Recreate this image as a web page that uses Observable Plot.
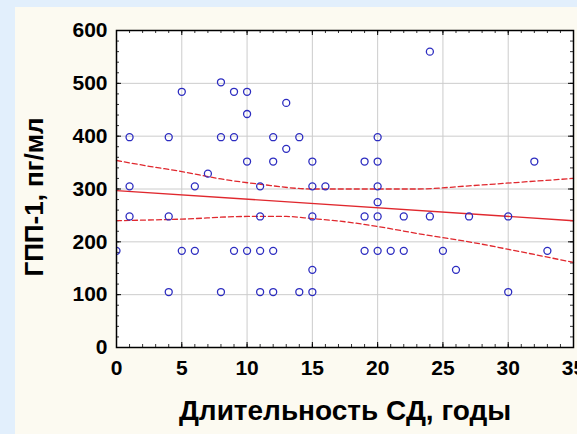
<!DOCTYPE html>
<html><head><meta charset="utf-8">
<script src="https://cdn.jsdelivr.net/npm/d3@7"></script>
<script src="https://cdn.jsdelivr.net/npm/@observablehq/plot@0.6"></script>
<style>
html,body{margin:0;padding:0;width:577px;height:434px;overflow:hidden;background:#e2effc;}
#panel{position:absolute;left:15px;top:7px;right:0;bottom:0;background:#fcfaf1;}
#chart{position:absolute;left:0;top:0;}
</style></head>
<body><div id="panel"></div><div id="chart"></div>
<script>
// Scatter data: diabetes duration (years) vs GLP-1 (pg/ml)
const durationYears = [1,4,5,8,9,10,10,13,8,9,12,14,10,12,15,13,7,1,6,11,15,16,
  24,20,19,20,32,20,
  0,1,4,11,15,5,6,9,10,11,12,15,4,8,11,12,14,15,
  20,19,20,22,24,27,30,19,20,21,22,25,33,26,30];
const glp1 = [398,398,484,502,484,484,442,463,398,398,398,398,352,352,352,376,329,305,305,305,305,305,
  560,398,352,352,352,305,
  183,248,248,248,248,183,183,183,183,183,183,147,105,105,105,105,105,105,
  275,248,248,248,248,248,248,183,183,183,183,183,183,147,105];

// Regression line and confidence limits
const regX = [0, 35];
const regY = [297, 240];
const upperX = [0, 2.5, 5, 8, 11, 15, 20, 23, 27, 31, 35];
const upperY = [354, 343, 333, 319, 309, 300, 300, 300, 306, 313, 320];
const lowerX = [0, 5, 10, 13, 15, 17.5, 20, 23, 27, 31, 35];
const lowerY = [240, 243, 248, 248, 244, 238, 229, 216, 200, 181, 161];

// Ticks
const xTicks = [0,5,10,15,20,25,30,35];
const yTicks = [0,100,200,300,400,500,600];
const xGrid = [5,10,15,20,25,30];
const yGrid = [100,200,300,400,500];
const xMinor = d3.range(0, 36, 1);
const yMinor = d3.range(0, 601, 20);

const xTitle = "Длительность СД, годы";
const yTitle = "ГПП-1, пг/мл";

const points = durationYears.map((x, i) => ({x, y: glp1[i]}));
const reg = regX.map((x, i) => ({x, y: regY[i]}));
const upper = upperX.map((x, i) => ({x, y: upperY[i]}));
const lower = lowerX.map((x, i) => ({x, y: lowerY[i]}));

const W = 577, H = 434, mL = 116, mR = 4, mT = 30, mB = 87;
const pH = H - mT - mB, pW = W - mL - mR;
const red = "#e0282e", blue = "#2c2cc0";
const font = "'Liberation Sans', Arial, sans-serif";

const chart = Plot.plot({
  width: W, height: H,
  marginLeft: mL, marginRight: mR, marginTop: mT, marginBottom: mB,
  style: {background: "transparent", fontFamily: font, color: "black"},
  x: {domain: [0, 35]},
  y: {domain: [0, 600]},
  marks: [
    Plot.frame({fill: "white", stroke: null}),
    Plot.gridX(xGrid, {stroke: "#cccccc", strokeOpacity: 1}),
    Plot.gridY(yGrid, {stroke: "#cccccc", strokeOpacity: 1}),
    // minor ticks, inward on all four sides
    Plot.ruleX(xMinor, {insetTop: pH - 3, stroke: "#333"}),
    Plot.ruleX(xMinor, {insetBottom: pH - 3, stroke: "#333"}),
    Plot.ruleY(yMinor, {insetRight: pW - 3, stroke: "#333"}),
    Plot.ruleY(yMinor, {insetLeft: pW - 3, stroke: "#333"}),
    // major ticks
    Plot.ruleX(xTicks, {insetTop: pH - 5, stroke: "black"}),
    Plot.ruleX(xTicks, {insetBottom: pH - 5, stroke: "black"}),
    Plot.ruleY(yTicks, {insetRight: pW - 5, stroke: "black"}),
    Plot.ruleY(yTicks, {insetLeft: pW - 5, stroke: "black"}),
    Plot.line(upper, {x: "x", y: "y", stroke: red, strokeWidth: 1.3, strokeDasharray: "5,3", curve: "monotone-x"}),
    Plot.line(lower, {x: "x", y: "y", stroke: red, strokeWidth: 1.3, strokeDasharray: "5,3", curve: "monotone-x"}),
    Plot.line(reg, {x: "x", y: "y", stroke: red, strokeWidth: 1.4}),
    Plot.dot(points, {x: "x", y: "y", r: 3.5, stroke: blue, strokeWidth: 1.3, fill: "none", clip: true}),
    Plot.frame({stroke: "black", strokeWidth: 1.5}),
    Plot.axisX(xTicks, {tickSize: 0, tickPadding: 13, fontSize: 21, fontWeight: "bold", label: null}),
    Plot.axisY(yTicks, {tickSize: 0, tickPadding: 9, fontSize: 21, fontWeight: "bold", label: null}),
    Plot.text([xTitle], {text: d => d, frameAnchor: "bottom", dy: 64, lineAnchor: "middle", fontSize: 28, fontWeight: "bold", fill: "black"}),
    Plot.text([yTitle], {text: d => d, frameAnchor: "left", dx: -82, dy: 8, rotate: -90, lineAnchor: "middle", textAnchor: "middle", fontSize: 26, fontWeight: "bold", fill: "black"})
  ]
});
document.getElementById("chart").appendChild(chart);
</script>
</body></html>
